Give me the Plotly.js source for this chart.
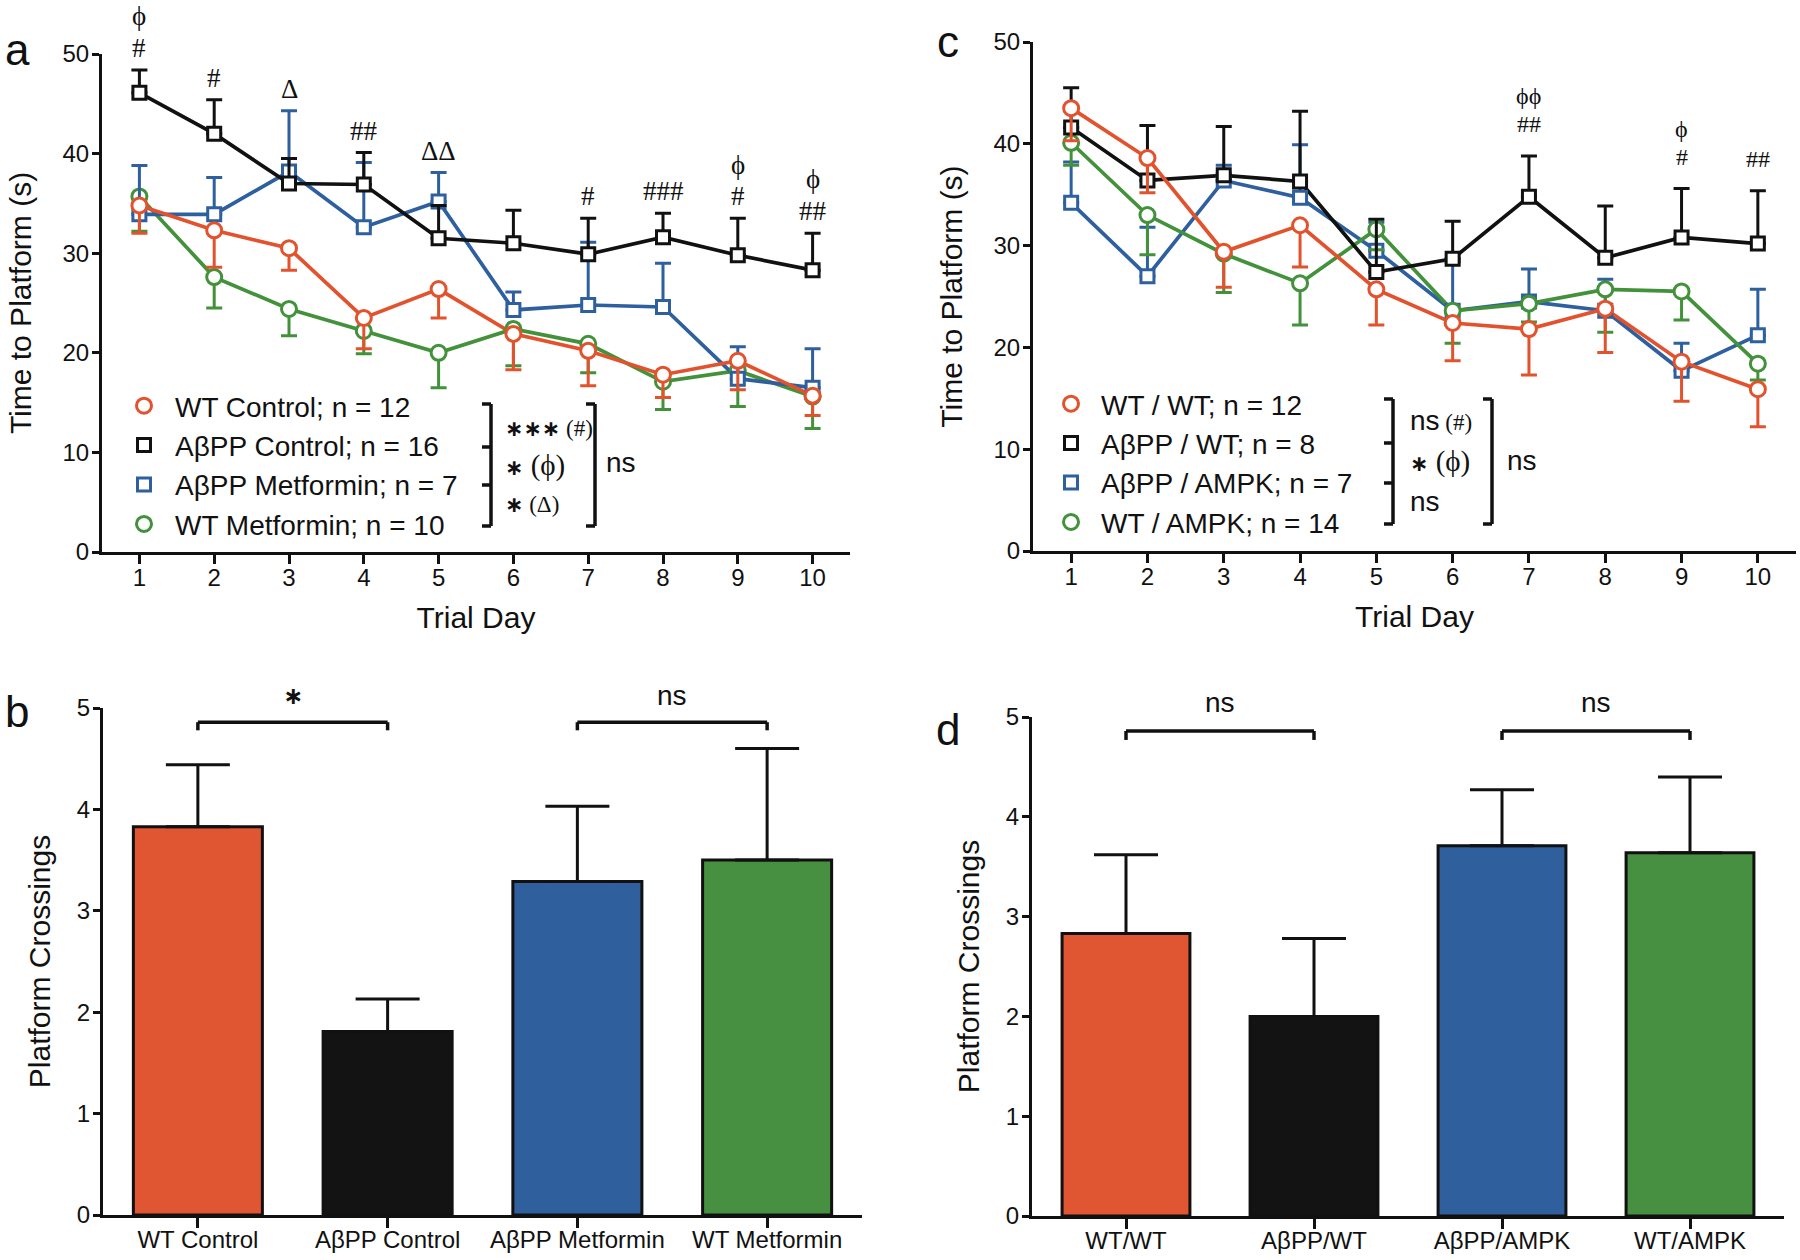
<!DOCTYPE html>
<html><head><meta charset="utf-8">
<script src="https://cdn.plot.ly/plotly-3.0.1.min.js"></script>
<style>html,body{margin:0;padding:0;background:#fff}#chart{width:1800px;height:1260px}</style>
</head><body><div id="chart"></div>
<script>
// ---------------- DATA ----------------
const days = [1, 2, 3, 4, 5, 6, 7, 8, 9, 10];

// Panel a (means and SEM)
const aWtControl      = [34.8, 32.3, 30.5, 23.5, 26.4, 21.9, 20.2, 17.8, 19.2, 15.7];
const aWtControlSem   = [2.8, 3.7, 2.2, 3.1, 2.9, 3.6, 3.5, 2.3, 2.9, 2.0];
const aAppControl     = [46.1, 42.0, 37.0, 36.9, 31.5, 31.0, 29.9, 31.6, 29.8, 28.3];
const aAppControlSem  = [2.3, 3.4, 2.5, 3.2, 3.3, 3.3, 3.6, 2.4, 3.7, 3.7];
const aAppMetformin   = [33.9, 33.9, 38.2, 32.6, 35.2, 24.3, 24.8, 24.6, 17.4, 16.5];
const aAppMetforminSem= [4.9, 3.7, 6.1, 6.5, 2.9, 1.8, 6.3, 4.4, 3.2, 3.9];
const aWtMetformin    = [35.7, 27.6, 24.4, 22.2, 20.0, 22.4, 20.9, 17.1, 18.2, 15.6];
const aWtMetforminSem = [3.5, 3.1, 2.7, 2.3, 3.5, 3.7, 2.9, 2.8, 3.6, 3.2];
const aLegendNames = ['WT Control; n = 12', 'AβPP Control; n = 16', 'AβPP Metformin; n = 7', 'WT Metformin; n = 10'];
const aSigDay   = [1, 2, 3, 4, 5, 7, 8, 9, 10];
const aSigLower = ['#', '#', 'Δ', '##', 'ΔΔ', '#', '###', '#', '##'];
const aSigUpper = ['ϕ', '', '', '', '', '', '', 'ϕ', 'ϕ'];

// Panel c (means and SEM)
const cWtWt        = [43.5, 38.6, 29.4, 32.0, 25.7, 22.4, 21.8, 23.8, 18.6, 15.9];
const cWtWtSem     = [3.2, 3.4, 3.5, 4.1, 3.5, 3.7, 4.5, 4.3, 3.9, 3.7];
const cAppWt       = [41.6, 36.4, 36.9, 36.3, 27.4, 28.7, 34.8, 28.8, 30.8, 30.2];
const cAppWtSem    = [3.9, 5.4, 4.8, 6.9, 5.2, 3.7, 4.0, 5.1, 4.8, 5.2];
const cAppAmpk     = [34.2, 27.0, 36.4, 34.7, 29.5, 23.6, 24.5, 23.6, 17.7, 21.2];
const cAppAmpkSem  = [4.0, 4.8, 1.5, 5.2, 2.8, 4.8, 3.2, 3.1, 2.7, 4.5];
const cWtAmpk      = [40.1, 33.0, 29.2, 26.3, 31.6, 23.6, 24.3, 25.7, 25.5, 18.4];
const cWtAmpkSem   = [2.2, 3.9, 3.8, 4.1, 2.0, 3.2, 1.8, 4.2, 2.8, 1.6];
const cLegendNames = ['WT / WT; n = 12', 'AβPP / WT; n = 8', 'AβPP / AMPK; n = 7', 'WT / AMPK; n = 14'];
const cSigDay   = [7, 9, 10];
const cSigLower = ['##', '#', '##'];
const cSigUpper = ['ϕϕ', 'ϕ', ''];

// Panel b
const bCategories = ['WT Control', 'AβPP Control', 'AβPP Metformin', 'WT Metformin'];
const bValues     = [3.83, 1.81, 3.29, 3.50];
const bSem        = [0.61, 0.32, 0.74, 1.10];

// Panel d
const dCategories = ['WT/WT', 'AβPP/WT', 'AβPP/AMPK', 'WT/AMPK'];
const dValues     = [2.83, 2.00, 3.71, 3.64];
const dSem        = [0.79, 0.78, 0.56, 0.76];

// ---------------- STYLE ----------------
const SANS = 'Liberation Sans, Arial, Helvetica, sans-serif';
const SERIF = 'Liberation Serif, DejaVu Serif, Times New Roman, serif';
const RED = '#E2532D', BLACK = '#111111', BLUE = '#2E5F9F', GREEN = '#43923B';
const BAR_COLORS = ['#E05532', '#121312', '#2F5F9C', '#478F41'];
const W = 1800, H = 1260;
const px = v => v / W;
const py = v => 1 - v / H;

function lineTrace(y, color, xa, ya) {
  return {type: 'scatter', mode: 'lines', x: days, y: y, xaxis: xa, yaxis: ya,
    line: {color: color, width: 3.7}, showlegend: false, hoverinfo: 'skip'};
}
function markTrace(y, sem, up, color, symbol, name, rank, xa, ya, legendId) {
  const zeros = sem.map(() => 0);
  return {type: 'scatter', mode: 'markers', x: days, y: y, xaxis: xa, yaxis: ya,
    name: name, legend: legendId, legendrank: rank, showlegend: true,
    marker: {symbol: symbol, size: symbol === 'circle' ? 15 : 13, color: '#fff',
             line: {color: color, width: 3}},
    error_y: {type: 'data', symmetric: false, array: up ? sem : zeros,
              arrayminus: up ? zeros : sem, color: color, thickness: 3, width: 8}};
}
const CIRC = 'circle', SQ = 'square';

const traces = [
  lineTrace(aWtMetformin, GREEN, 'x', 'y'),
  lineTrace(aAppMetformin, BLUE, 'x', 'y'),
  lineTrace(aAppControl, BLACK, 'x', 'y'),
  lineTrace(aWtControl, RED, 'x', 'y'),
  markTrace(aWtMetformin, aWtMetforminSem, false, GREEN, CIRC, aLegendNames[3], 4, 'x', 'y', 'legend'),
  markTrace(aAppMetformin, aAppMetforminSem, true, BLUE, SQ, aLegendNames[2], 3, 'x', 'y', 'legend'),
  markTrace(aAppControl, aAppControlSem, true, BLACK, SQ, aLegendNames[1], 2, 'x', 'y', 'legend'),
  markTrace(aWtControl, aWtControlSem, false, RED, CIRC, aLegendNames[0], 1, 'x', 'y', 'legend'),
  lineTrace(cAppAmpk, BLUE, 'x2', 'y2'),
  lineTrace(cWtAmpk, GREEN, 'x2', 'y2'),
  lineTrace(cAppWt, BLACK, 'x2', 'y2'),
  lineTrace(cWtWt, RED, 'x2', 'y2'),
  markTrace(cAppAmpk, cAppAmpkSem, true, BLUE, SQ, cLegendNames[2], 3, 'x2', 'y2', 'legend2'),
  markTrace(cWtAmpk, cWtAmpkSem, false, GREEN, CIRC, cLegendNames[3], 4, 'x2', 'y2', 'legend2'),
  markTrace(cAppWt, cAppWtSem, true, BLACK, SQ, cLegendNames[1], 2, 'x2', 'y2', 'legend2'),
  markTrace(cWtWt, cWtWtSem, false, RED, CIRC, cLegendNames[0], 1, 'x2', 'y2', 'legend2'),
  {type: 'bar', x: bCategories, y: bValues, xaxis: 'x3', yaxis: 'y3', showlegend: false,
   marker: {color: BAR_COLORS, line: {color: BLACK, width: 3}},
   error_y: {type: 'data', symmetric: false, array: bSem, arrayminus: bSem.map(() => 0),
             color: BLACK, thickness: 3, width: 32}},
  {type: 'bar', x: dCategories, y: dValues, xaxis: 'x4', yaxis: 'y4', showlegend: false,
   marker: {color: BAR_COLORS, line: {color: BLACK, width: 3}},
   error_y: {type: 'data', symmetric: false, array: dSem, arrayminus: dSem.map(() => 0),
             color: BLACK, thickness: 3, width: 32}}
];

function axisBase(extra) {
  return Object.assign({showline: true, linecolor: BLACK, linewidth: 3, ticks: 'outside',
    ticklen: 9, tickwidth: 3, tickcolor: BLACK, showgrid: false, zeroline: false,
    tickfont: {family: SANS, size: 24, color: BLACK}, fixedrange: true}, extra);
}
const TITLE_FONT = {family: SANS, size: 30, color: BLACK};

const layout = {
  width: W, height: H, margin: {l: 0, r: 0, t: 0, b: 0},
  paper_bgcolor: '#fff', plot_bgcolor: 'rgba(0,0,0,0)',
  font: {family: SANS, color: BLACK},
  bargap: 0.32,
  showlegend: true,
  xaxis: axisBase({domain: [px(102), px(850)], range: [0.5, 10.5], tickvals: days, anchor: 'y',
    ticklabelstandoff: -7, title: {text: 'Trial Day', font: TITLE_FONT, standoff: 18}}),
  yaxis: axisBase({domain: [py(552), py(54)], range: [0, 50], dtick: 10, anchor: 'x',
    ticklen: 7, ticklabelstandoff: -2,
    title: {text: 'Time to Platform (s)', font: TITLE_FONT, standoff: 22}}),
  xaxis2: axisBase({domain: [px(1033), px(1796)], range: [0.5, 10.5], tickvals: days, anchor: 'y2',
    ticklabelstandoff: -7, title: {text: 'Trial Day', font: TITLE_FONT, standoff: 18}}),
  yaxis2: axisBase({domain: [py(551), py(42)], range: [0, 50], dtick: 10, anchor: 'x2',
    ticklen: 7, ticklabelstandoff: -2,
    title: {text: 'Time to Platform (s)', font: TITLE_FONT, standoff: 22}}),
  xaxis3: axisBase({domain: [px(103), px(862)], range: [-0.5, 3.5], type: 'category', anchor: 'y3',
    ticklen: 10, ticklabelstandoff: -9, tickfont: {family: SANS, size: 24, color: BLACK}}),
  yaxis3: axisBase({domain: [py(1215), py(708)], range: [0, 5], dtick: 1, anchor: 'x3',
    ticklen: 7, ticklabelstandoff: -2,
    title: {text: 'Platform Crossings', font: TITLE_FONT, standoff: 18}}),
  xaxis4: axisBase({domain: [px(1032), px(1784)], range: [-0.5, 3.5], type: 'category', anchor: 'y4',
    ticklen: 10, ticklabelstandoff: -9, tickfont: {family: SANS, size: 24, color: BLACK}}),
  yaxis4: axisBase({domain: [py(1216), py(717)], range: [0, 5], dtick: 1, anchor: 'x4',
    ticklen: 7, ticklabelstandoff: -2,
    title: {text: 'Platform Crossings', font: TITLE_FONT, standoff: 18}}),
  legend: {x: px(113), y: py(381), xanchor: 'left', yanchor: 'top', bgcolor: 'rgba(0,0,0,0)',
    font: {family: SANS, size: 28, color: BLACK}, itemwidth: 52, tracegroupgap: 0, traceorder: 'normal'},
  legend2: {x: px(1041), y: py(379), xanchor: 'left', yanchor: 'top', bgcolor: 'rgba(0,0,0,0)',
    font: {family: SANS, size: 28, color: BLACK}, itemwidth: 50, tracegroupgap: 0, traceorder: 'normal'},
  annotations: [],
  shapes: []
};

// ---------- significance marks above the line charts ----------
function sigMarks(series, sems, ups, sigDays, lower, upper, xa, ya, yMax, gap, step, size) {
  sigDays.forEach((d, k) => {
    const i = days.indexOf(d);
    let top = 0;
    series.forEach((s, j) => { top = Math.max(top, s[i] + (ups[j] ? sems[j][i] : 0)); });
    const put = (txt, v) => layout.annotations.push({xref: xa, yref: ya + ' domain', x: d, y: v / yMax,
      text: txt, showarrow: false, font: {family: SERIF, size: size, color: BLACK}, yanchor: 'middle'});
    if (lower[k]) put(lower[k], top + gap);
    if (upper[k]) put(upper[k], top + gap + step);
  });
}
sigMarks([aWtControl, aAppControl, aAppMetformin, aWtMetformin],
  [aWtControlSem, aAppControlSem, aAppMetforminSem, aWtMetforminSem],
  [false, true, true, false], aSigDay, aSigLower, aSigUpper, 'x', 'y', 50, 2.2, 3.2, 27);
sigMarks([cWtWt, cAppWt, cAppAmpk, cWtAmpk],
  [cWtWtSem, cAppWtSem, cAppAmpkSem, cWtAmpkSem],
  [false, true, true, false], cSigDay, cSigLower, cSigUpper, 'x2', 'y2', 50, 3.1, 2.8, 24);

// ---------- panel letters ----------
[['a', 17, 50], ['b', 17, 711], ['c', 948, 42], ['d', 948, 729]].forEach(p => {
  layout.annotations.push({xref: 'paper', yref: 'paper', x: px(p[1]), y: py(p[2]), text: p[0],
    showarrow: false, xanchor: 'center', yanchor: 'middle', font: {family: SANS, size: 44, color: BLACK}});
});

// ---------- legend brackets ----------
function pline(x0, y0, x1, y1) {
  layout.shapes.push({type: 'line', xref: 'paper', yref: 'paper', x0: px(x0), y0: py(y0), x1: px(x1), y1: py(y1),
    line: {color: BLACK, width: 3.5}});
}
function bracket(x, top, bottom, ticks) {
  pline(x, top, x, bottom);
  [top].concat(ticks, [bottom]).forEach(t => pline(x - 9, t, x, t));
}
function ptext(x, y, html, size) {
  layout.annotations.push({xref: 'paper', yref: 'paper', x: px(x), y: py(y), text: html, showarrow: false,
    xanchor: 'left', yanchor: 'middle', font: {family: SANS, size: size, color: BLACK}});
}
const ser = (t, s) => '<span style="font-family:Liberation Serif;font-size:' + s + 'px">' + t + '</span>';
const star = (n, s) => '<span style="font-family:DejaVu Sans;font-weight:bold;font-size:' + (s || 22) + 'px">' + '∗'.repeat(n) + '</span>';
// panel a
bracket(491, 404, 526, [447, 485]);
bracket(595, 404, 526, []);
ptext(503, 428, star(3) + ser(' (#)', 23), 28);
ptext(503, 465, star(1) + ser(' (ϕ)', 29), 28);
ptext(503, 504, star(1) + ser(' (Δ)', 23), 28);
ptext(604, 462, 'ns', 28);
// panel c
bracket(1393, 399, 524, [443, 483]);
bracket(1492, 399, 524, []);
ptext(1408, 421, 'ns' + ser(' (#)', 23), 28);
ptext(1408, 461, star(1) + ser(' (ϕ)', 29), 28);
ptext(1408, 502, 'ns', 28);
ptext(1505, 460, 'ns', 28);

// ---------- bar significance brackets ----------
function barBracket(xa, ya, i0, i1, yTop, yEnd, label, yLabel) {
  const L = (x0, y0, x1, y1) => layout.shapes.push({type: 'line', xref: xa, yref: ya, x0: x0, y0: y0, x1: x1, y1: y1,
    line: {color: BLACK, width: 3.5}});
  L(i0, yTop, i1, yTop); L(i0, yTop, i0, yEnd); L(i1, yTop, i1, yEnd);
  layout.annotations.push({xref: xa, yref: ya + ' domain', x: (i0 + i1) / 2, y: yLabel / 5, text: label,
    showarrow: false, yanchor: 'middle', font: {family: SANS, size: 28, color: BLACK}});
}
barBracket('x3', 'y3', 0, 1, 4.86, 4.78, star(1, 24), 5.12);
barBracket('x3', 'y3', 2, 3, 4.86, 4.78, 'ns', 5.12);
barBracket('x4', 'y4', 0, 1, 4.86, 4.77, 'ns', 5.15);
barBracket('x4', 'y4', 2, 3, 4.86, 4.77, 'ns', 5.15);

Plotly.newPlot('chart', traces, layout, {staticPlot: true, displayModeBar: false});
</script>
</body></html>
